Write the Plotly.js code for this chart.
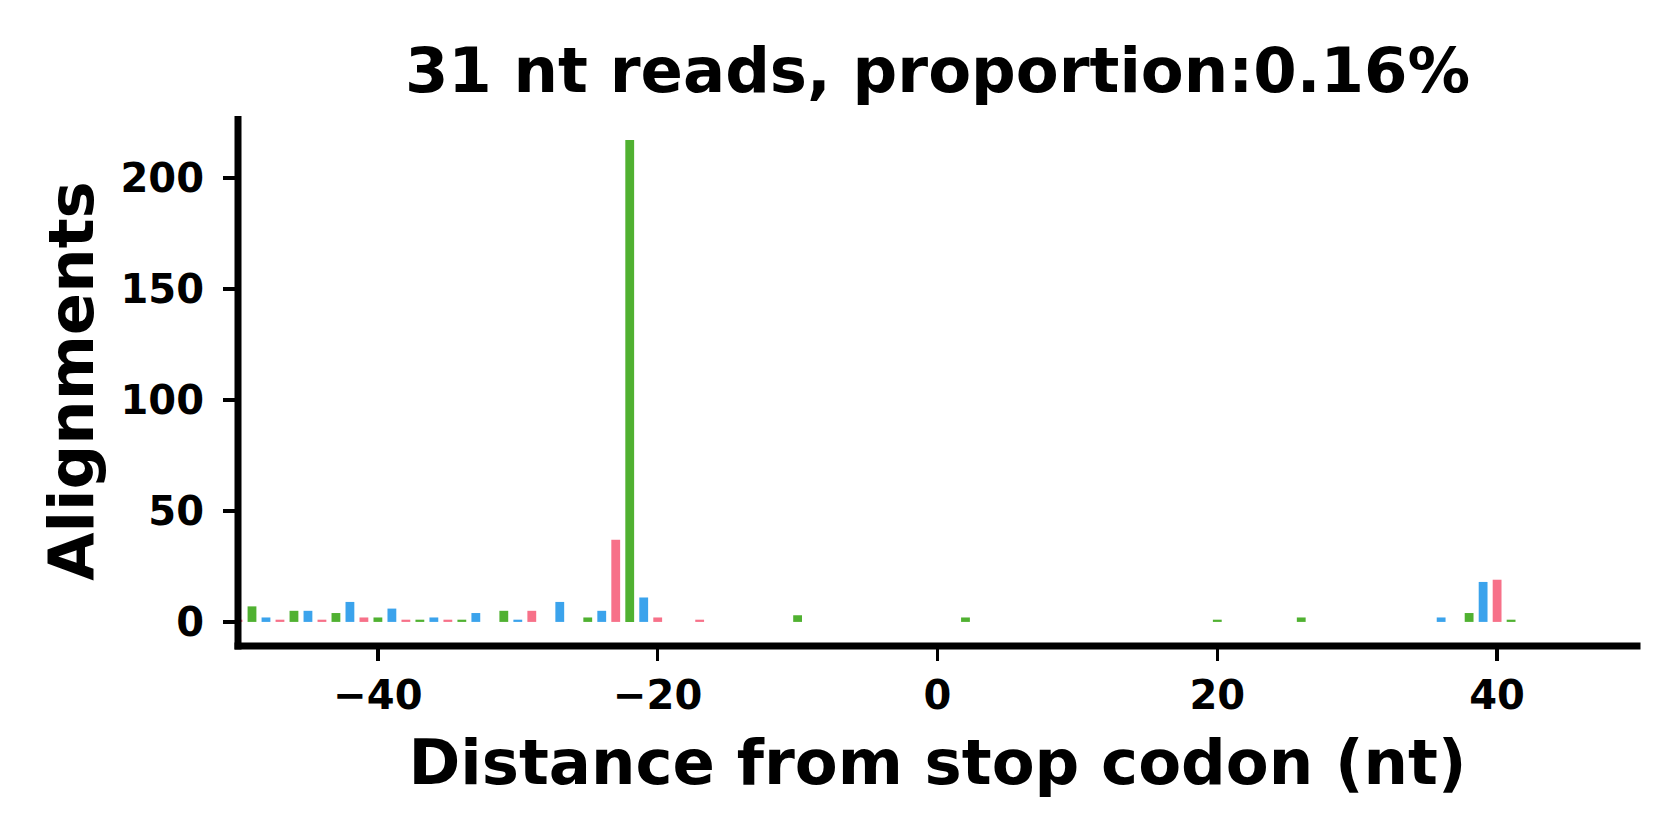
<!DOCTYPE html>
<html>
<head>
<meta charset="utf-8">
<script src="https://cdn.plot.ly/plotly-3.0.1.min.js"></script>
<style>
  html, body { margin: 0; padding: 0; background: #fff; }
  #chart { width: 1680px; height: 840px; }
</style>
</head>
<body>
<div id="chart"></div>
<script>
// Distance from stop codon (nt) and number of alignments at each position
const positions = [-50,-49,-48,-47,-46,-45,-44,-43,-42,-41,-40,-39,-38,-37,-36,-35,-34,-33,
                   -31,-30,-29,-27,-25,-24,-23,-22,-21,-20,-17,-10,2,20,26,36,38,39,40,41];
const counts    = [1,7,2,1,5,5,1,4,9,2,2,6,1,1,2,1,1,4,
                   5,1,5,9,2,5,37,217,11,2,1,3,2,1,2,2,4,18,19,1];
const frameNames  = ['frame 0', 'frame 1', 'frame 2'];
const frameColors = ['#3ba3ec', '#f77189', '#50b131'];
const xTicks = [-40, -20, 0, 20, 40];
const yTicks = [0, 50, 100, 150, 200];
const titleText = '31 nt reads, proportion:0.16%';
const xLabel = 'Distance from stop codon (nt)';
const yLabel = 'Alignments';

const traces = frameNames.map((name, f) => {
  const xs = [], ys = [];
  positions.forEach((p, i) => {
    if (((p % 3) + 3) % 3 === f) { xs.push(p); ys.push(counts[i]); }
  });
  return {
    type: 'bar', name: name, x: xs, y: ys, width: 0.63,
    marker: { color: frameColors[f], line: { width: 0 } },
    showlegend: false, hoverinfo: 'x+y'
  };
});

const W = 1680, H = 840;
const M = { l: 238, r: 43, t: 116, b: 194 };
const plotW = W - M.l - M.r, plotH = H - M.t - M.b;
const spineW = 7;
const padX = (spineW / 2) / plotW, padY = (spineW / 2) / plotH;

const tickFont = { family: 'DejaVu Sans', size: 40, color: '#000', weight: 'bold' };
const labelFont = { family: 'DejaVu Sans', size: 62.5, color: '#000', weight: 'bold' };

const layout = {
  width: W, height: H,
  paper_bgcolor: '#fff', plot_bgcolor: '#fff',
  margin: M,
  barmode: 'overlay',
  title: {
    text: titleText,
    font: { family: 'DejaVu Sans', size: 62.5, color: '#000', weight: 'bold' },
    x: 0.5, xref: 'paper', xanchor: 'center',
    y: 0.917, yref: 'container', yanchor: 'middle'
  },
  xaxis: {
    range: [-50, 50],
    tickvals: xTicks,
    ticks: 'outside', ticklen: 14, tickwidth: 3.5, tickcolor: '#000',
    ticklabelstandoff: 0,
    showline: false,
    showgrid: false, zeroline: false,
    tickfont: tickFont,
    title: { text: xLabel, font: labelFont, standoff: 23 },
    automargin: false
  },
  yaxis: {
    range: [-10.85, 227.85],
    tickvals: yTicks,
    ticks: 'outside', ticklen: 14, tickwidth: 3.5, tickcolor: '#000',
    ticklabelstandoff: 11,
    showline: false,
    showgrid: false, zeroline: false,
    tickfont: tickFont,
    title: { text: yLabel, font: labelFont, standoff: 6 },
    automargin: false
  },
  shapes: [
    { type: 'line', xref: 'paper', yref: 'paper', x0: 0, x1: 0, y0: -padY, y1: 1,
      line: { color: '#000', width: spineW }, layer: 'above' },
    { type: 'line', xref: 'paper', yref: 'paper', x0: -padX, x1: 1 + padX, y0: 0, y1: 0,
      line: { color: '#000', width: spineW }, layer: 'above' }
  ]
};

Plotly.newPlot('chart', traces, layout, { displayModeBar: false, staticPlot: true });
</script>
</body>
</html>
